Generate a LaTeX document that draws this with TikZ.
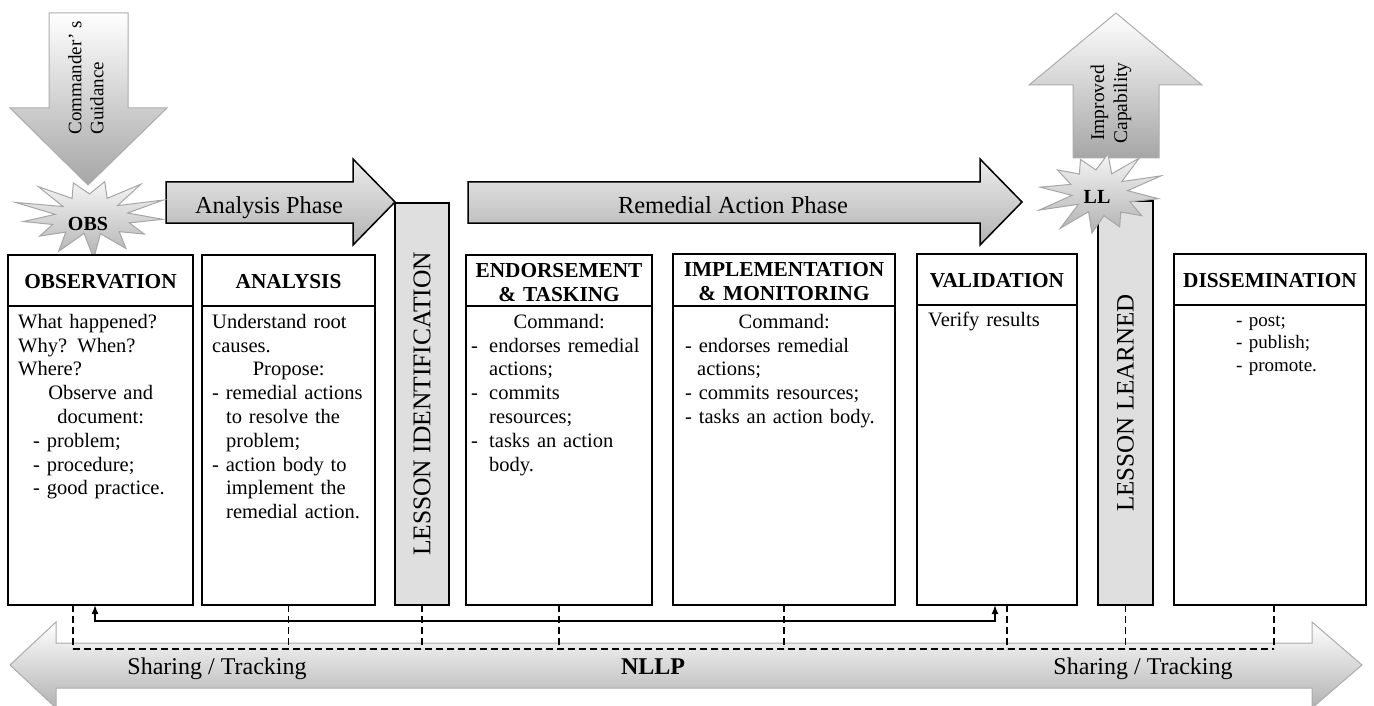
\documentclass[tikz,border=0pt]{standalone}
\usepackage{fontspec}
\setmainfont{Liberation Serif}
\usetikzlibrary{arrows.meta,calc}
\begin{document}
\begin{tikzpicture}[x=1pt,y=-1pt,
  box/.style={draw, line width=1.6pt, fill=white, inner sep=0pt, outer sep=0pt, anchor=north west},
  barbox/.style={draw, line width=1.6pt, fill=gray!25, inner sep=0pt, outer sep=0pt, anchor=north west},
  headtxt/.style={font=\bfseries\fontsize{21.3}{24}\selectfont, inner sep=0pt},
  bodytxt/.style={font=\fontsize{20.5}{23.8}\selectfont, inner sep=0pt, align=left, anchor=north west},
  phasearrow/.style={draw=black, line width=1.5pt, top color=gray!15, middle color=white, bottom color=gray!60},
  bigarrow/.style={draw=gray!65, line width=1pt, top color=white, bottom color=gray!70},
  starfill/.style={draw=gray!70, line width=1pt, top color=gray!8, bottom color=gray!60},
  dashline/.style={dash pattern=on 7pt off 4pt, line width=1.4pt},
  labtxt/.style={inner sep=0pt, anchor=base}
]
\useasboundingbox (0,0) rectangle (1374,706);

% NLLP double arrow
\path[draw=gray!65, line width=1pt, top color=white, middle color=gray!8, bottom color=gray!60]
  (10,665) -- (56,622) -- (56,643) -- (1312,643) -- (1312,622) -- (1362,665)
  -- (1312,708) -- (1312,688) -- (56,688) -- (56,708) -- cycle;
\node[labtxt, font=\fontsize{24}{28}\selectfont] (sharel) at (217,674) {Sharing / Tracking};
\node[labtxt, font=\bfseries\fontsize{24}{28}\selectfont] (nllp) at (653,674) {NLLP};
\node[labtxt, font=\fontsize{24}{28}\selectfont] (sharer) at (1143,674) {Sharing / Tracking};

% Commander's guidance arrow
\path[bigarrow] (49,13) -- (128,13) -- (128,108) -- (167,108) -- (88,185) -- (10,108) -- (49,108) -- cycle;
\node[rotate=90, align=left, font=\fontsize{19}{22}\selectfont, inner sep=0pt] (cmdt) at (86,78) {Commander’ s\\Guidance};

% Improved capability arrow
\path[bigarrow] (1116,13) -- (1202,85) -- (1159,85) -- (1159,158) -- (1073,158) -- (1073,85) -- (1029,85) -- cycle;
\node[rotate=90, align=center, font=\fontsize{19.5}{23}\selectfont, inner sep=0pt] (impt) at (1111,103) {Improved\\Capability};

% phase arrows
\path[phasearrow] (166,182) -- (353,182) -- (353,159) -- (395,202) -- (353,245) -- (353,223) -- (166,223) -- cycle;
\node[labtxt, font=\fontsize{24.3}{28}\selectfont] (aphase) at (269,213) {Analysis Phase};
\path[phasearrow] (468,182) -- (980,182) -- (980,159) -- (1022,202) -- (980,245) -- (980,223) -- (468,223) -- cycle;
\node[labtxt, font=\fontsize{24.5}{28}\selectfont] (rphase) at (733,213) {Remedial Action Phase};

% bars
\node[barbox, minimum width=54pt, minimum height=402pt] (bli) at (395,203) {};
\node[rotate=90, font=\fontsize{25.5}{28}\selectfont, inner sep=0pt] (lit) at (bli.center) {LESSON IDENTIFICATION};
\node[barbox, minimum width=55pt, minimum height=404pt] (bll) at (1098,201) {};
\node[rotate=90, font=\fontsize{25}{28}\selectfont, inner sep=0pt] (llt) at (bll.center) {LESSON LEARNED};

% starbursts
\path[starfill] plot[samples at={0,...,25}, variable=\k]
  ({91+72*(0.76+0.24*cos(\k*180))*(1+0.12*sin(\k*137))*cos(\k*360/26+5)},
   {216+38*(0.76+0.24*cos(\k*180))*(1+0.12*sin(\k*137))*sin(\k*360/26+5)}) -- cycle;
\node[labtxt, font=\bfseries\fontsize{20}{24}\selectfont] (obs) at (88,230) {OBS};
\path[starfill] plot[samples at={0,...,23}, variable=\k]
  ({1100+59*(0.76+0.24*cos(\k*180))*(1+0.12*sin(\k*151))*cos(\k*15+8)},
   {193+41*(0.76+0.24*cos(\k*180))*(1+0.12*sin(\k*151))*sin(\k*15+8)}) -- cycle;
\node[labtxt, font=\bfseries\fontsize{20}{24}\selectfont] (ll) at (1097,204) {LL};

% boxes
\node[box, minimum width=185pt, minimum height=350pt] (bobs) at (8,255) {};
\node[box, minimum width=173pt, minimum height=350pt] (bana) at (202,255) {};
\node[box, minimum width=186pt, minimum height=350pt] (bend) at (466,255) {};
\node[box, minimum width=222pt, minimum height=351pt] (bimp) at (673,254) {};
\node[box, minimum width=160pt, minimum height=351pt] (bval) at (917,254) {};
\node[box, minimum width=192pt, minimum height=351pt] (bdis) at (1174,254) {};
\foreach \b/\y in {bobs/306,bana/306,bend/306,bimp/306,bval/305,bdis/305}
  \draw[line width=1.6pt] (\b.west |- 0,\y) -- (\b.east |- 0,\y);

% headers
\node[headtxt, anchor=base] (hobs) at (100.5,288) {OBSERVATION};
\node[headtxt, anchor=base] (hana) at (288.5,288) {ANALYSIS};
\node[headtxt, anchor=north, text width=200pt, align=center] (hend) at (559,261) {\rule{0pt}{16pt}ENDORSEMENT\\\& TASKING};
\node[headtxt, anchor=north, text width=220pt, align=center] (himp) at (784,260) {\rule{0pt}{16pt}IMPLEMENTATION\\\& MONITORING};
\node[headtxt, anchor=base] (hval) at (997,287) {VALIDATION};
\node[headtxt, anchor=base] (hdis) at (1270,287) {DISSEMINATION};

% bodies
\node[bodytxt, text width=165pt] (tobs) at (18,312) {\rule{0pt}{16pt}What happened?\\Why? When?\\Where?\\\makebox[\hsize]{Observe and}\\\makebox[\hsize]{document:}\\\hspace*{15pt}- problem;\\\hspace*{15pt}- procedure;\\\hspace*{15pt}- good practice.};
\node[bodytxt, text width=153pt] (tana) at (212,312) {\rule{0pt}{16pt}Understand root\\causes.\\\makebox[\hsize]{Propose:}\\- remedial actions\\\hspace*{14pt}to resolve the\\\hspace*{14pt}problem;\\- action body to\\\hspace*{14pt}implement the\\\hspace*{14pt}remedial action.};
\node[bodytxt, text width=176pt] (tend) at (471,312) {\rule{0pt}{16pt}\makebox[\hsize]{Command:}\\\makebox[18pt][l]{-}endorses remedial\\\hspace*{18pt}actions;\\\makebox[18pt][l]{-}commits\\\hspace*{18pt}resources;\\\makebox[18pt][l]{-}tasks an action\\\hspace*{18pt}body.};
\node[bodytxt, text width=198pt] (timp) at (685,312) {\rule{0pt}{16pt}\makebox[\hsize]{Command:}\\- endorses remedial\\\hspace*{12pt}actions;\\- commits resources;\\- tasks an action body.};
\node[bodytxt, text width=140pt] (tval) at (928,310) {\rule{0pt}{16pt}Verify results};
\node[bodytxt, text width=120pt, font=\fontsize{19}{22.5}\selectfont] (tdis) at (1236,310) {\rule{0pt}{16pt}- post;\\- publish;\\- promote.};

% sharing / tracking connectors
\coordinate (dl) at (73,649);
\coordinate (dr) at (1274,649);
\draw[dashline] (dl) -- (dr);
\draw[dashline] (bobs.south west) ++(65,0) -- (dl);
\foreach \b in {bana,bli,bend,bimp,bll}
  \draw[dashline] (\b.south) -- (\b.south |- dl);
\draw[dashline] (bval.south west) ++(90,0) -- ++(0,44);
\draw[dashline] (bdis.south west) ++(100,0) -- (dr);

% feedback line
\coordinate (fbl) at (95,621);
\draw[line width=1.6pt, {Latex[length=9pt,width=7pt]}-{Latex[length=9pt,width=7pt]}]
  (bobs.south -| fbl) -- (fbl) -| ($(bval.south west)+(78,0)$);
\end{tikzpicture}
\end{document}
